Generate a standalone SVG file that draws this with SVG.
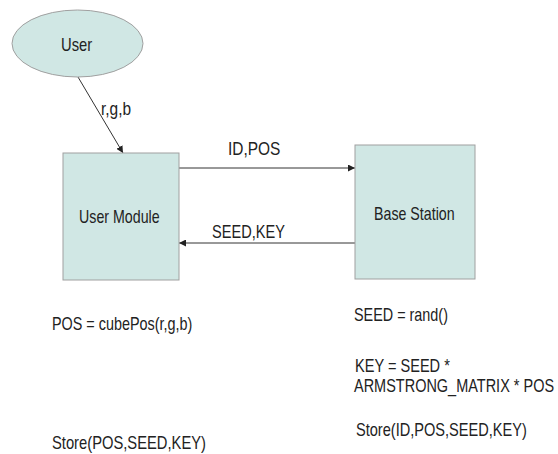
<svg xmlns="http://www.w3.org/2000/svg" width="558" height="454" viewBox="0 0 558 454">
<style>
.node{fill:#d0e7e4;stroke:#a0a0a0;stroke-width:1}
.t{font-family:"Liberation Sans",Arial,sans-serif;font-size:18px;fill:#222}
.c{stroke:#333;stroke-width:1;fill:none;marker-end:url(#ah)}
</style>
<defs>
<marker id="ah" viewBox="0 0 10 10" refX="10" refY="5" markerWidth="7" markerHeight="7" orient="auto" markerUnits="userSpaceOnUse">
<path d="M0,0 L10,5 L0,10 z" fill="#222"/>
</marker>
</defs>
<rect width="558" height="454" fill="#fff"/>
<g id="connectors">
<line class="c" x1="78" y1="77" x2="123" y2="153"/>
<line class="c" x1="179" y1="168" x2="355" y2="168"/>
<line class="c" x1="355" y1="243" x2="179" y2="243"/>
<text class="t" transform="translate(101,115) scale(0.86,1)">r,g,b</text>
<text class="t" transform="translate(228,155) scale(0.86,1)">ID,POS</text>
<text class="t" transform="translate(212,238) scale(0.81,1)">SEED,KEY</text>
</g>
<g id="user">
<ellipse class="node" cx="77.5" cy="43.5" rx="65.5" ry="33.5"/>
<text class="t" transform="translate(61,51) scale(0.82,1)">User</text>
</g>
<g id="user-module">
<rect class="node" x="63" y="153" width="116" height="127"/>
<text class="t" transform="translate(79,223) scale(0.79,1)">User Module</text>
</g>
<g id="base-station">
<rect class="node" x="355" y="145" width="120" height="134"/>
<text class="t" transform="translate(374,220) scale(0.79,1)">Base Station</text>
</g>
<g id="notes">
<text class="t" transform="translate(52,330) scale(0.8,1)">POS = cubePos(r,g,b)</text>
<text class="t" transform="translate(52,449) scale(0.82,1)">Store(POS,SEED,KEY)</text>
<text class="t" transform="translate(354,321) scale(0.8,1)">SEED = rand()</text>
<text class="t" transform="translate(355,372) scale(0.81,1)">KEY = SEED *</text>
<text class="t" transform="translate(354,392) scale(0.805,1)">ARMSTRONG_MATRIX * POS</text>
<text class="t" transform="translate(356,436) scale(0.81,1)">Store(ID,POS,SEED,KEY)</text>
</g>
</svg>
